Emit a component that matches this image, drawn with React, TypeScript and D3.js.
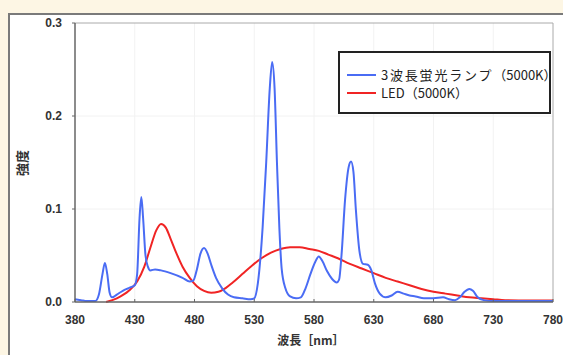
import React from "react";
import * as d3 from "d3";

// 3波長蛍光ランプ (5000K)
const lampNm = [380, 385, 390, 397, 400, 403, 405, 407, 409, 411, 415, 420, 425, 430, 432, 434, 435.5, 437, 439, 441, 443, 447, 452, 460, 470, 476, 479, 482, 485, 488, 491, 494, 498, 503, 508, 513, 520, 527, 530, 533, 537, 540, 543, 545, 547, 549, 551, 553, 556, 560, 565, 569, 573, 577, 581, 584, 587, 591, 595, 599, 601, 603, 606, 609, 611, 613, 615, 618, 621, 625, 628, 631, 635, 640, 645, 650, 655, 660, 665, 672, 680, 688, 693, 698, 702, 706, 710, 713, 717, 722, 730, 780];
const lampVal = [0.003, 0.002, 0.001, 0.001, 0.008, 0.03, 0.042, 0.03, 0.01, 0.005, 0.008, 0.012, 0.015, 0.018, 0.03, 0.09, 0.113, 0.09, 0.05, 0.038, 0.034, 0.035, 0.034, 0.031, 0.026, 0.022, 0.023, 0.035, 0.052, 0.058, 0.052, 0.04, 0.026, 0.015, 0.008, 0.005, 0.004, 0.003, 0.004, 0.02, 0.08, 0.15, 0.23, 0.258, 0.23, 0.15, 0.08, 0.035, 0.015, 0.006, 0.004, 0.005, 0.015, 0.03, 0.043, 0.049, 0.044, 0.033, 0.025, 0.021, 0.024, 0.05, 0.11, 0.145, 0.151, 0.14, 0.1, 0.055, 0.041, 0.04, 0.034, 0.02, 0.009, 0.005, 0.007, 0.011, 0.009, 0.007, 0.006, 0.004, 0.004, 0.005, 0.003, 0.002, 0.005, 0.011, 0.014, 0.012, 0.005, 0.002, 0.001, 0.001];

// LED (5000K)
const ledNm = [406, 415, 425, 432, 438, 443, 448, 452, 456, 460, 465, 470, 476, 482, 488, 494, 500, 506, 512, 520, 528, 536, 544, 552, 560, 568, 576, 584, 592, 600, 610, 620, 630, 640, 650, 660, 670, 680, 690, 700, 710, 720, 730, 740, 760, 780];
const ledVal = [0, 0.004, 0.012, 0.022, 0.038, 0.058, 0.077, 0.084, 0.08, 0.068, 0.052, 0.038, 0.026, 0.017, 0.012, 0.01, 0.011, 0.015, 0.021, 0.03, 0.039, 0.047, 0.053, 0.057, 0.059, 0.059, 0.057, 0.055, 0.051, 0.047, 0.041, 0.036, 0.031, 0.026, 0.022, 0.018, 0.014, 0.011, 0.009, 0.007, 0.005, 0.004, 0.003, 0.002, 0.0015, 0.0015];

const xTicks = [380, 430, 480, 530, 580, 630, 680, 730, 780];
const yTicks = [0, 0.1, 0.2, 0.3];
const seriesNames = ["3波長蛍光ランプ", "LED"];
const seriesSuffix = "（5000K）";
const seriesColors = ["#4a6cf4", "#f02424"];

const W = 563;
const H = 355;
const plot = { left: 75, top: 23, right: 553, bottom: 302 };

export default function App() {
  const x = d3.scaleLinear().domain([380, 780]).range([plot.left, plot.right]);
  const y = d3.scaleLinear().domain([0, 0.3]).range([plot.bottom, plot.top]);

  const line = d3
    .line<[number, number]>()
    .x(d => x(d[0]))
    .y(d => y(d[1]))
    .curve(d3.curveMonotoneX);

  const lamp = lampNm.map((n, i) => [n, lampVal[i]] as [number, number]);
  const led = ledNm.map((n, i) => [n, ledVal[i]] as [number, number]);

  const tickFont = "'Liberation Sans', Arial, sans-serif";
  const jpFont = "'Noto Sans CJK JP', sans-serif";

  return (
    <svg
      width={W}
      height={H}
      style={{ position: "absolute", left: 0, top: 0 }}
    >
      <rect x={0} y={0} width={W} height={H} fill="#fdf6e4" />
      {/* panel */}
      <rect x={9} y={14} width={W} height={H} fill="#fff" stroke="#7a7a7a" strokeWidth={2} />

      {/* faint grid */}
      <g stroke="#f2f2f2" strokeWidth={1}>
        {xTicks.slice(1, -1).map(t => (
          <line key={"gx" + t} x1={x(t)} x2={x(t)} y1={plot.top} y2={plot.bottom} />
        ))}
        {yTicks.slice(1, -1).map(t => (
          <line key={"gy" + t} x1={plot.left} x2={plot.right} y1={y(t)} y2={y(t)} />
        ))}
      </g>

      {/* frame */}
      <line x1={plot.left} x2={plot.right} y1={plot.top} y2={plot.top} stroke="#aaa" strokeWidth={1} />
      <line x1={plot.right} x2={plot.right} y1={plot.top} y2={plot.bottom} stroke="#aaa" strokeWidth={1} />

      {/* lines */}
      <path d={line(led) ?? ""} fill="none" stroke={seriesColors[1]} strokeWidth={2} />
      <path d={line(lamp) ?? ""} fill="none" stroke={seriesColors[0]} strokeWidth={2} />

      {/* axes */}
      <line x1={plot.left} x2={plot.left} y1={plot.top} y2={plot.bottom} stroke="#666" strokeWidth={1.5} />
      <line x1={plot.left} x2={plot.right} y1={plot.bottom} y2={plot.bottom} stroke="#666" strokeWidth={1.5} />

      {xTicks.map(t => (
        <g key={"x" + t}>
          <line x1={x(t)} x2={x(t)} y1={plot.bottom} y2={plot.bottom - 3} stroke="#666" />
          <text
            x={x(t)}
            y={324}
            textAnchor="middle"
            fontFamily={tickFont}
            fontWeight="bold"
            fontSize={12}
            fill="#333"
          >
            {t}
          </text>
        </g>
      ))}
      {yTicks.map(t => (
        <g key={"y" + t}>
          <line x1={plot.left - 3} x2={plot.left} y1={y(t)} y2={y(t)} stroke="#666" />
          <text
            x={62}
            y={y(t) + 4}
            textAnchor="end"
            fontFamily={tickFont}
            fontWeight="bold"
            fontSize={12}
            fill="#333"
          >
            {t.toFixed(1)}
          </text>
        </g>
      ))}

      <text
        x={311}
        y={345}
        textAnchor="middle"
        fontFamily={jpFont}
        fontWeight="bold"
        fontSize={12}
        fill="#333"
      >
        波長［nm］
      </text>
      <text
        transform="translate(27,163) rotate(-90)"
        textAnchor="middle"
        fontFamily={jpFont}
        fontWeight="bold"
        fontSize={13}
        fill="#333"
      >
        強度
      </text>

      {/* legend */}
      <rect x={339} y={52} width={211} height={61} fill="#fff" stroke="#222" strokeWidth={2} />
      {seriesNames.map((name, i) => (
        <g key={name}>
          <line x1={347} x2={376} y1={75 + i * 18} y2={75 + i * 18} stroke={seriesColors[i]} strokeWidth={2} />
          <text
            x={381}
            y={80 + i * 18}
            fontFamily={jpFont}
            fontSize={13}
            fill="#222"
          >
            <tspan letterSpacing={i === 0 ? 1.8 : 0}>{name}</tspan>
            <tspan>{seriesSuffix}</tspan>
          </text>
        </g>
      ))}
    </svg>
  );
}
